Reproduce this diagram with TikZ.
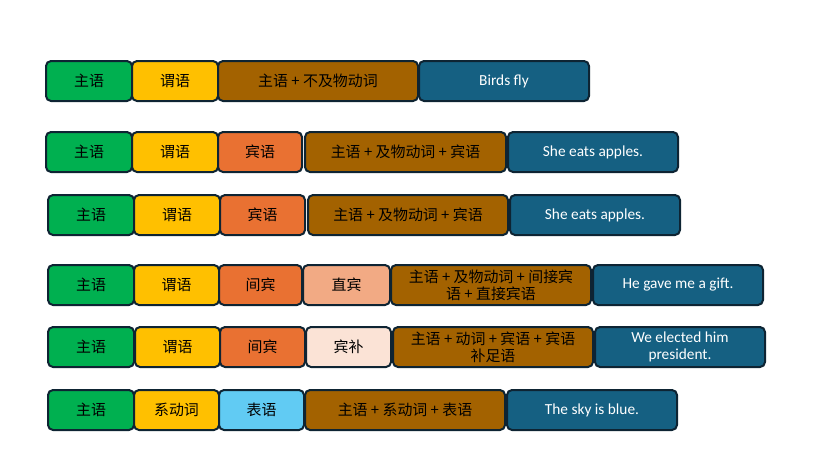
\documentclass[tikz,border=0pt]{standalone}
\usepackage{fontspec}
\setmainfont{Carlito}
\newfontfamily\cjk{Noto Sans CJK SC}
\usepackage{tikz}
\usetikzlibrary{positioning}
\definecolor{cgreen}{HTML}{00B050}
\definecolor{cyellow}{HTML}{FFC000}
\definecolor{corange}{HTML}{E97132}
\definecolor{clight}{HTML}{F2AA84}
\definecolor{cpale}{HTML}{FBE3D6}
\definecolor{ccyan}{HTML}{61CBF3}
\definecolor{cbrown}{HTML}{A36200}
\definecolor{cblue}{HTML}{156082}
\definecolor{cedge}{HTML}{0E2433}
\newdimen\pdim
\pdim=0.75pt
\tikzstyle{part}=[
  draw=cedge,
  line width=2\pdim,
  font={\cjk\fontsize{11.2}{12.6}\selectfont},
  inner sep=0pt,
  minimum height=40\pdim,
  outer sep=0pt,
  rectangle,
  rounded corners=5\pdim,
  text centered,
  align=center,
]
\tikzstyle{short}=[part, minimum width=86\pdim]
\tikzstyle{pattern}=[part, fill=cbrown, minimum width=200\pdim]
\tikzstyle{sample}=[part, fill=cblue, text=white, minimum width=170\pdim,
  font={\fontsize{11.5}{13.2}\selectfont}]
\tikzset{x=\pdim, y=-\pdim}

\begin{document}
\begin{tikzpicture}
    \useasboundingbox (0,0) rectangle (832,465);
    %% row 1
    \node (s1) [short, fill=cgreen] at (89,81) {主语};
    \node (v1) [short, fill=cyellow] at (175,81) {谓语};
    \node (p1) [pattern] at (318,81) {主语 + 不及物动词};
    \node (e1) [sample] at (504,81) {Birds fly};
    %% row 2
    \node (s2) [short, fill=cgreen] at (89,152) {主语};
    \node (v2) [short, fill=cyellow] at (175,152) {谓语};
    \node (o2) [short, fill=corange, minimum width=84\pdim] at (260,152) {宾语};
    \node (p2) [pattern, minimum width=201\pdim] at (405.5,152) {主语 + 及物动词 + 宾语};
    \node (e2) [sample] at (593,152) {She eats apples.};
    %% row 3
    \node (s3) [short, fill=cgreen] at (91,215) {主语};
    \node (v3) [short, fill=cyellow] at (177,215) {谓语};
    \node (o3) [short, fill=corange, minimum width=85\pdim] at (262.5,215) {宾语};
    \node (p3) [pattern] at (408,215) {主语 + 及物动词 + 宾语};
    \node (e3) [sample] at (595,215) {She eats apples.};
    %% row 4
    \node (s4) [short, fill=cgreen] at (91,285) {主语};
    \node (v4) [short, fill=cyellow, minimum width=85\pdim] at (176.5,285) {谓语};
    \node (i4) [short, fill=corange, minimum width=83\pdim] at (260.5,285) {间宾};
    \node (d4) [short, fill=clight, minimum width=87\pdim] at (346.5,285) {直宾};
    \node (p4) [pattern] at (491,285) {主语 + 及物动词 + 间接宾\\语 + 直接宾语};
    \node (e4) [sample] at (678,285) {He gave me a gift.};
    %% row 5
    \node (s5) [short, fill=cgreen] at (91,347) {主语};
    \node (v5) [short, fill=cyellow, minimum width=85\pdim] at (177.5,347) {谓语};
    \node (i5) [short, fill=corange, minimum width=85\pdim] at (262.5,347) {间宾};
    \node (c5) [short, fill=cpale, minimum width=85\pdim] at (348.5,347) {宾补};
    \node (p5) [pattern] at (493,347) {主语 + 动词 + 宾语 + 宾语\\补足语};
    \node (e5) [sample] at (680,347) {We elected him\\president.};
    %% row 6
    \node (s6) [short, fill=cgreen] at (91,410) {主语};
    \node (v6) [short, fill=cyellow, minimum width=85\pdim] at (176.5,410) {系动词};
    \node (t6) [short, fill=ccyan, minimum width=85\pdim] at (261.5,410) {表语};
    \node (p6) [pattern] at (405,410) {主语 + 系动词 + 表语};
    \node (e6) [sample] at (592,410) {The sky is blue.};
\end{tikzpicture}
\end{document}
